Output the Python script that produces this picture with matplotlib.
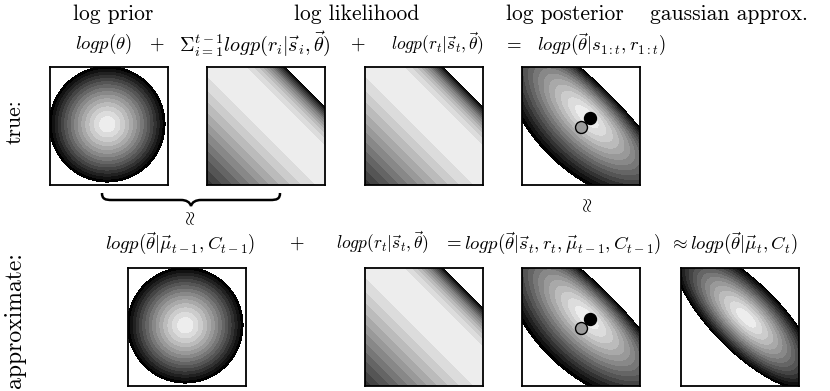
import numpy as np
import matplotlib.pyplot as plt
from matplotlib.colors import LinearSegmentedColormap
from matplotlib.path import Path
from matplotlib.patches import PathPatch

plt.rcParams['mathtext.fontset'] = 'cm'

# parametros de los campos (coordenadas del panel en [-1, 1])
prior_center = [-0.03, 0.03]
prior_weight = 1.0
lik_slope = 2.6       # parte lineal del log likelihood (poisson)
lik_scale = 0.5135    # parte exponencial
lik_rate = 2.8
n_levels = 15

# rango de niveles visible en cada panel (debajo queda blanco)
prior_span = 0.96
lik_span = 4.19
post_span = 3.66
gauss_span = 2.6

# puntos marcados en el posterior
theta_true = [0.146, 0.13]
theta_est = [0.0, -0.01]

W, H = 830, 391
fig = plt.figure(figsize=(W / 100, H / 100), dpi=100)
cmap = LinearSegmentedColormap.from_list('g', [(0, 0, 0), (0.93, 0.93, 0.93)])

grid = np.linspace(-1, 1, 400)
X, Y = np.meshgrid(grid, grid)
T = (X + Y) / np.sqrt(2)
N = (Y - X) / np.sqrt(2)

prior = -prior_weight * ((X - prior_center[0])**2 + (Y - prior_center[1])**2)
lik = lik_slope * T - lik_scale * np.exp(lik_rate * T)
post = prior + 2 * lik

# aproximacion gaussiana (laplace) alrededor del maximo
i = np.argmax(post)
t0, n0 = T.flat[i], N.flat[i]
ct = 2 * prior_weight + 2 * lik_scale * lik_rate**2 * np.exp(lik_rate * t0)
cn = 2 * prior_weight
gauss = post.max() - 0.5 * (ct * (T - t0)**2 + cn * (N - n0)**2)


def panel(x0, y0, F, span, power=1.5, dots=False):
    ax = fig.add_axes([x0 / W, 1 - (y0 + 118) / H, 118 / W, 118 / H])
    top = F.max()
    levels = top - span * np.linspace(1, 0, n_levels + 1)**power
    levels[-1] = top + 1e-9
    colors = [cmap(j / (n_levels - 1)) for j in range(n_levels)]
    ax.contourf(X, Y, F, levels=levels, colors=colors)
    if dots:
        ax.plot(theta_est[0], theta_est[1], 'o', ms=8.6, mfc='#9c9c9c', mec='black', mew=1)
        ax.plot(theta_true[0], theta_true[1], 'o', ms=8.6, mfc='black', mec='black')
    ax.set_xlim(-1, 1)
    ax.set_ylim(-1, 1)
    ax.set_xticks([])
    ax.set_yticks([])
    for s in ax.spines.values():
        s.set_linewidth(1.3)
    return ax


panel(50, 67, prior, prior_span)
panel(207, 67, lik, lik_span, power=1)
panel(365, 67, lik, lik_span, power=1)
panel(522, 67, post, post_span, dots=True)

panel(128, 268, prior, prior_span)
panel(365, 268, lik, lik_span, power=1)
panel(522, 268, post, post_span, dots=True)
panel(681, 268, gauss, gauss_span)


def txt(x, y, s, size=13.5, **kw):
    fig.text(x / W, 1 - y / H, s, fontsize=size, ha='center', va='center', **kw)


# titulos
txt(113, 14, 'log prior', 15.5, family='cmr10')
txt(357, 14, 'log likelihood', 15.5, family='cmr10')
txt(565, 14, 'log posterior', 15.5, family='cmr10')
txt(729, 14, 'gaussian approx.', 15.5, family='cmr10')

# fila verdadera
txt(103, 44, r'$logp(\theta)$')
txt(157, 44, r'$+$')
txt(255, 44, r'$\Sigma_{i=1}^{t-1} logp(r_i|\vec{s}_i,\vec{\theta})$', 14.5)
txt(358, 44, r'$+$')
txt(437, 44, r'$logp(r_t|\vec{s}_t,\vec{\theta})$', 12.5)
txt(512, 44, r'$=$')
txt(601, 44, r'$logp(\vec{\theta}|s_{1:t},r_{1:t})$')

# fila aproximada (simbolo de aproximado vertical)
txt(190, 219, r'$\approx$', 14, rotation=90)
txt(587, 206, r'$\approx$', 14, rotation=90)
txt(180, 243, r'$logp(\vec{\theta}|\vec{\mu}_{t-1},C_{t-1})$')
txt(297, 243, r'$+$')
txt(382, 243, r'$logp(r_t|\vec{s}_t,\vec{\theta})$', 12.5)
txt(552, 243, r'$=logp(\vec{\theta}|\vec{s}_t,r_t,\vec{\mu}_{t-1},C_{t-1})$')
txt(733, 243, r'$\approx logp(\vec{\theta}|\vec{\mu}_t,C_t)$')

txt(15, 122, 'true:', 15.5, family='cmr10', rotation=90)
txt(15, 320, 'approximate:', 17, family='cmr10', rotation=90)

# llave debajo de los dos primeros paneles
pts = [(102, 193), (102, 199), (105, 200), (112, 200), (181, 200),
       (186, 200), (190, 202), (191, 206), (192, 202), (196, 200), (201, 200),
       (270, 200), (277, 200), (280, 199), (280, 193)]
codes = [Path.MOVETO, Path.CURVE4, Path.CURVE4, Path.CURVE4, Path.LINETO,
         Path.CURVE4, Path.CURVE4, Path.CURVE4, Path.CURVE4, Path.CURVE4, Path.CURVE4,
         Path.LINETO, Path.CURVE4, Path.CURVE4, Path.CURVE4]
brace = Path([(x / W, 1 - y / H) for x, y in pts], codes)
fig.patches.append(PathPatch(brace, transform=fig.transFigure, fc='none', ec='black', lw=1.8))

plt.savefig('out.png', dpi=100)
